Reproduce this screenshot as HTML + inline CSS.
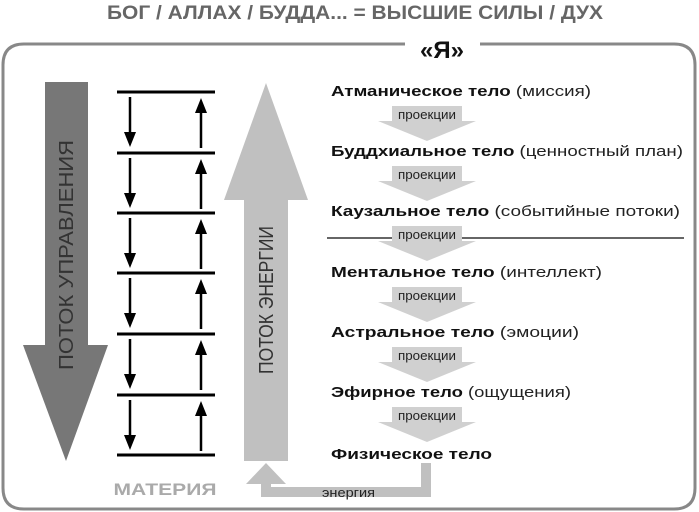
<!DOCTYPE html>
<html><head><meta charset="utf-8"><style>
html,body{margin:0;padding:0;background:#fff;}
svg{display:block;}
.b{font-family:"Liberation Sans",sans-serif;font-weight:bold;font-size:15px;fill:#111;}
.n{font-weight:normal;fill:#222;}
.p{font-family:"Liberation Sans Narrow","Liberation Sans",sans-serif;font-size:13px;fill:#222;}
</style></head><body>
<svg width="699" height="512" viewBox="0 0 699 512">
<text x="355" y="19" text-anchor="middle" font-family="Liberation Sans Narrow,Liberation Sans,sans-serif" font-weight="bold" font-size="19" fill="#666" textLength="496" lengthAdjust="spacingAndGlyphs">БОГ / АЛЛАХ / БУДДА... = ВЫСШИЕ СИЛЫ / ДУХ</text>
<path d="M405 44 H24 Q3 44 3 65 V488 Q3 509 24 509 H674 Q695 509 695 488 V65 Q695 44 674 44 H480" fill="none" stroke="#888" stroke-width="3"/>
<text x="442" y="58" text-anchor="middle" font-family="Liberation Sans,sans-serif" font-weight="bold" font-size="24" fill="#111">«Я»</text>
<!-- left arrow -->
<rect x="45" y="82" width="43" height="264" fill="#777"/>
<polygon points="23,345 108,345 66,461" fill="#777"/>
<text transform="translate(73,255) rotate(-90)" text-anchor="middle" font-family="Liberation Sans,sans-serif" font-size="20" fill="#333" textLength="230" lengthAdjust="spacingAndGlyphs">ПОТОК УПРАВЛЕНИЯ</text>
<!-- ladder -->
<g stroke="#000" stroke-width="3">
<line x1="117" y1="92" x2="215" y2="92"/><line x1="117" y1="153" x2="215" y2="153"/>
<line x1="117" y1="213" x2="215" y2="213"/><line x1="117" y1="273" x2="215" y2="273"/>
<line x1="117" y1="334" x2="215" y2="334"/><line x1="117" y1="395" x2="215" y2="395"/>
<line x1="117" y1="455" x2="215" y2="455"/>
</g>
<g id="rung">
<line x1="130" y1="97" x2="130" y2="135" stroke="#000" stroke-width="2.5"/>
<polygon points="124,132 136,132 130,147" fill="#000"/>
<line x1="201" y1="111" x2="201" y2="148" stroke="#000" stroke-width="2.5"/>
<polygon points="195,113 207,113 201,98" fill="#000"/>
</g>
<use href="#rung" y="61"/><use href="#rung" y="121"/><use href="#rung" y="181"/><use href="#rung" y="242"/><use href="#rung" y="303"/>
<!-- light arrow -->
<polygon points="266,83 308,200 224,200" fill="#c0c0c0"/>
<rect x="244" y="199" width="44" height="262" fill="#c0c0c0"/>
<text transform="translate(273,300) rotate(-90)" text-anchor="middle" font-family="Liberation Sans,sans-serif" font-size="20" fill="#333" textLength="148" lengthAdjust="spacingAndGlyphs">ПОТОК ЭНЕРГИИ</text>
<text x="165" y="495" text-anchor="middle" font-family="Liberation Sans,sans-serif" font-weight="bold" font-size="17" fill="#aaa" textLength="103" lengthAdjust="spacingAndGlyphs">МАТЕРИЯ</text>
<!-- bottom connector -->
<path d="M426 463 V492 H266 V482" fill="none" stroke="#c0c0c0" stroke-width="10"/>
<polygon points="246,484 286,484 266,463" fill="#c0c0c0"/>
<text x="322" y="497" class="p" textLength="53" lengthAdjust="spacingAndGlyphs">энергия</text>
<!-- separator -->
<line x1="327" y1="238" x2="684" y2="238" stroke="#666" stroke-width="2"/>
<!-- projections -->
<g id="pr">
<rect x="392" y="106" width="70" height="16" fill="#d0d0d0"/>
<polygon points="378,121 476,121 427,141" fill="#d0d0d0"/>
<text x="427" y="119" text-anchor="middle" class="p" textLength="58" lengthAdjust="spacingAndGlyphs">проекции</text>
</g>
<use href="#pr" y="60"/><use href="#pr" y="120"/><use href="#pr" y="181"/><use href="#pr" y="241"/><use href="#pr" y="301"/>
<text x="331" y="96" class="b" textLength="260" lengthAdjust="spacingAndGlyphs">Атманическое тело <tspan class="n">(миссия)</tspan></text>
<text x="331" y="156" class="b" textLength="352" lengthAdjust="spacingAndGlyphs">Буддхиальное тело <tspan class="n">(ценностный план)</tspan></text>
<text x="331" y="216" class="b" textLength="349" lengthAdjust="spacingAndGlyphs">Каузальное тело <tspan class="n">(событийные потоки)</tspan></text>
<text x="331" y="277" class="b" textLength="271" lengthAdjust="spacingAndGlyphs">Ментальное тело <tspan class="n">(интеллект)</tspan></text>
<text x="331" y="337" class="b" textLength="248" lengthAdjust="spacingAndGlyphs">Астральное тело <tspan class="n">(эмоции)</tspan></text>
<text x="331" y="397" class="b" textLength="240" lengthAdjust="spacingAndGlyphs">Эфирное тело <tspan class="n">(ощущения)</tspan></text>
<text x="331" y="459" class="b" textLength="161" lengthAdjust="spacingAndGlyphs">Физическое тело</text>
</svg>
</body></html>
